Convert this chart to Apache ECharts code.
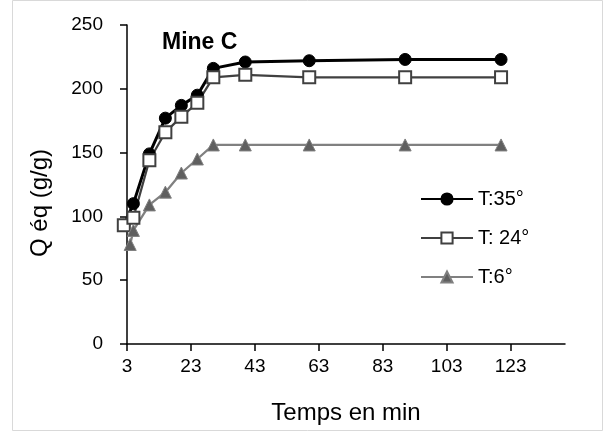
<!DOCTYPE html>
<html>
<head>
<meta charset="utf-8">
<script src="https://cdn.jsdelivr.net/npm/echarts@6/dist/echarts.min.js"></script>
<style>html,body{margin:0;padding:0;background:#fff}#c{width:605px;height:432px}</style>
</head>
<body>
<div id="c"></div>
<script>
// Data
const seriesNames = ['T:35°', 'T: 24°', 'T:6°'];
const t35 = [[2, 93], [5, 110], [10, 149], [15, 177], [20, 187], [25, 195], [30, 216], [40, 221], [60, 222], [90, 223], [120, 223]];
const t24 = [[2, 93], [5, 99], [10, 144], [15, 166], [20, 178], [25, 189], [30, 209], [40, 211], [60, 209], [90, 209], [120, 209]];
const t6 = [[4, 78], [5, 89], [10, 109], [15, 119], [20, 134], [25, 145], [30, 156], [40, 156], [60, 156], [90, 156], [120, 156]];
const xTicks = [3, 23, 43, 63, 83, 103, 123];
const titleText = 'Mine C';
const xName = 'Temps en min';
const yName = 'Q éq (g/g)';

const FONT = 'Liberation Sans';
const chart = echarts.init(document.getElementById('c'), null, {renderer: 'canvas'});
chart.setOption({
  animation: false,
  backgroundColor: '#fff',
  textStyle: {fontFamily: FONT},
  title: {
    text: titleText, left: 157, top: 26,
    textStyle: {fontFamily: FONT, fontWeight: 'bold', fontSize: 23, color: '#000'}
  },
  grid: {left: 127, top: 25, right: 40, bottom: 88, containLabel: false},
  legend: {
    orient: 'vertical', left: 415, top: 184, itemWidth: 52, itemHeight: 14, itemGap: 19,
    textStyle: {fontFamily: FONT, fontSize: 20, color: '#000'},
    data: seriesNames
  },
  xAxis: {
    type: 'value', min: 3, max: 140,
    axisLine: {show: true, onZero: false, lineStyle: {color: '#000', width: 1.5}},
    axisTick: {show: true, inside: false, length: 7, customValues: xTicks, lineStyle: {color: '#000', width: 1.5}},
    axisLabel: {customValues: xTicks, margin: 13, fontFamily: FONT, fontSize: 19, color: '#000'},
    splitLine: {show: false}
  },
  yAxis: {
    type: 'value', min: 0, max: 250, interval: 50,
    axisLine: {show: true, lineStyle: {color: '#000', width: 1.5}},
    axisTick: {show: true, inside: false, length: 7, lineStyle: {color: '#000', width: 1.5}},
    axisLabel: {margin: 24, fontFamily: FONT, fontSize: 19, color: '#000'},
    splitLine: {show: false}
  },
  graphic: [
    {type: 'rect', shape: {x: 12.5, y: 0.5, width: 590, height: 430}, style: {fill: 'none', stroke: '#d9d9d9', lineWidth: 1}, silent: true},
    {type: 'text', x: 346, y: 413, style: {text: xName, fontFamily: FONT, fontSize: 24, fill: '#000', textAlign: 'center', textVerticalAlign: 'middle'}},
    {type: 'text', x: 40, y: 203, rotation: Math.PI / 2, style: {text: yName, fontFamily: FONT, fontSize: 24, fill: '#000', textAlign: 'center', textVerticalAlign: 'middle'}}
  ],
  series: [
    {
      name: seriesNames[0], type: 'line', data: t35, clip: false,
      symbol: 'circle', symbolSize: 12,
      lineStyle: {color: '#000', width: 3},
      itemStyle: {color: '#000', borderColor: '#000', borderWidth: 1}
    },
    {
      name: seriesNames[1], type: 'line', data: t24, clip: false,
      symbol: 'rect', symbolSize: 12,
      lineStyle: {color: '#404040', width: 2.25},
      itemStyle: {color: '#fff', borderColor: '#404040', borderWidth: 2}
    },
    {
      name: seriesNames[2], type: 'line', data: t6, clip: false,
      symbol: 'triangle', symbolSize: 12,
      lineStyle: {color: '#808080', width: 2.25},
      itemStyle: {color: '#5f5f5f', borderColor: '#808080', borderWidth: 1}
    }
  ]
});
</script>
</body>
</html>
